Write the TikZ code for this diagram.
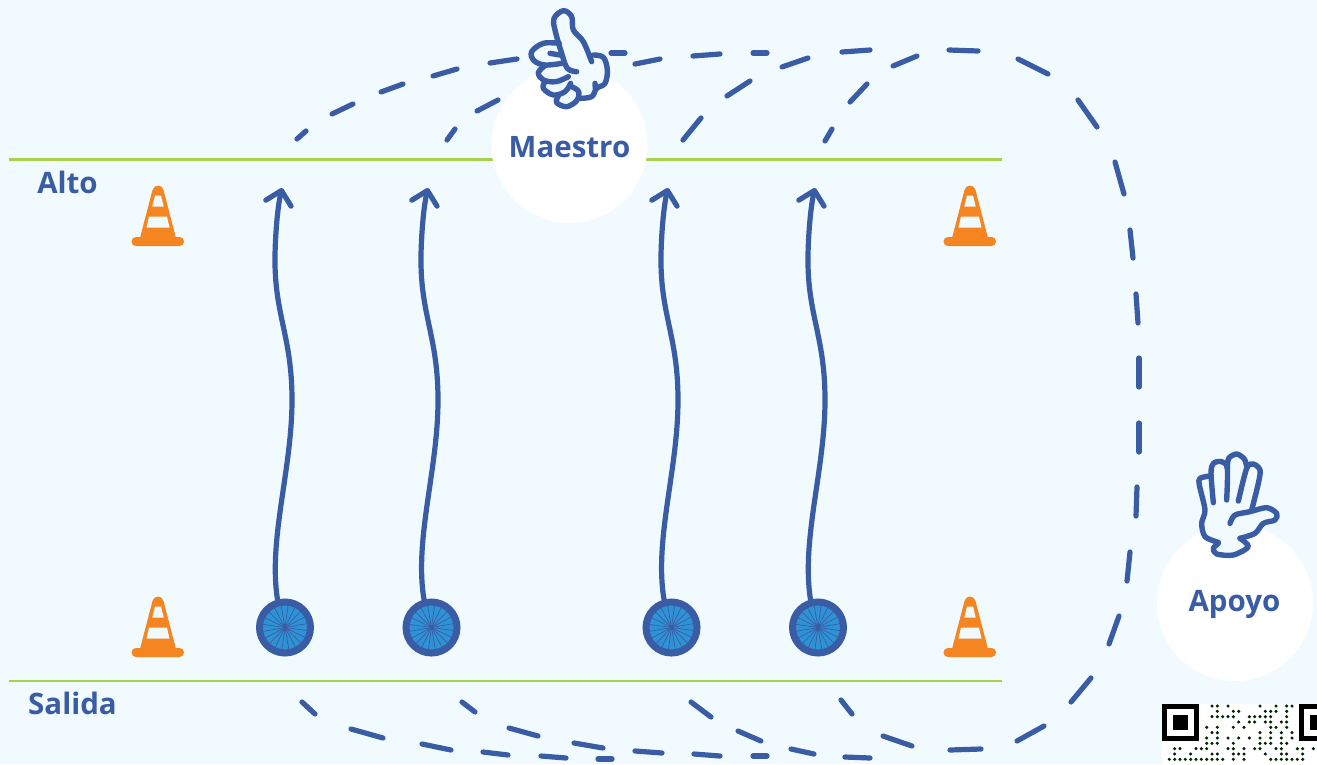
\documentclass[tikz,border=0pt]{standalone}
\usepackage{fontspec}
\setmainfont{Open Sans}
\usetikzlibrary{arrows.meta}
\definecolor{bgc}{HTML}{F0FAFF}
\definecolor{bluec}{HTML}{3A5CA5}
\definecolor{wheelc}{HTML}{2E93D5}
\definecolor{orangec}{HTML}{F58520}
\definecolor{greenc}{HTML}{A6D24C}
\tikzset{
  dashseg/.style={draw=bluec,line width=5.2pt,line cap=round},
  flow/.style={draw=bluec,line width=5.2pt,line cap=round,line join=round,-{Straight Barb[length=13pt,width=26pt,round]}},
  handline/.style={draw=bluec,line width=5.4pt,line cap=round,line join=round},
  halo/.style={circle,fill=white,minimum size=156pt,inner sep=0pt},
  halotext/.style={text=bluec,inner sep=0pt,font=\fontsize{29.5}{33}\selectfont\bfseries},
  lbl/.style={text=bluec,inner sep=0pt,font=\fontsize{29.5}{34}\selectfont\bfseries},
  wheel/.style={circle,draw=bluec,fill=wheelc,line width=7pt,minimum size=51pt,inner sep=0pt},
  track/.style={draw=greenc,line width=2.6pt},
  cone/.pic={
    \fill[orangec,rounded corners=4.4pt] (-26.5,51) rectangle (26,60);
    \fill[orangec] (-18,52) -- (-5.5,4) .. controls (-4,-2) and (4,-2) .. (5.5,4) -- (18,52) -- cycle;
    \fill[bgc] (-3,9.5) -- (3,9.5) -- (5.7,20.5) -- (-5.7,20.5) -- cycle;
    \fill[bgc] (-9,30.5) -- (9,30.5) -- (11.5,41.5) -- (-11.5,41.5) -- cycle;
  }
}
\begin{document}
\begin{tikzpicture}[x=1pt,y=-1pt]
\fill[bgc] (0,0) rectangle (1317,764);
\useasboundingbox (0,0) rectangle (1317,764);

% tracks
\coordinate (a1) at (9,159.5); \coordinate (a2) at (1002,159.5);
\coordinate (s1) at (9,681); \coordinate (s2) at (1002,681);
\draw[track] (a1) -- (a2);
\draw[track] (s1) -- (s2);

% dashed routes
\foreach \xa/\ya/\xb/\yb in {
 297/139/306/131, 332/114/353/104, 381/92/403/84, 433/76/457/69, 490/63/517/59,
 447/140/455/129, 477/111/498/100,
 611/53/625/53, 635/64/660/59, 693/56/720/54, 753/53/767/53, 782/67/808/58,
 842/52/870/50, 893/66/917/56, 949/50/978/51, 1018/59/1048/74, 1078/100/1097/127,
 683/140/701/118, 727/96/750/81, 825/141/832/129, 850/102/867/84,
 1115/162/1124/194, 1130/230/1133/258, 1136/294/1138/323, 1139/358/1139/387,
 1139/423/1139/452, 1137/487/1136/516, 1130/552/1127/581, 1119/616/1109/644,
 1091/678/1071/702, 1017/741/1044/726, 950/750/981/749, 883/736/912/746,
 845/757/870/758, 791/749/814/754, 753/756/767/756, 738/731/761/741,
 694/754/720/756, 691/702/711/717, 841/700/852/714, 635/751/662/753,
 302/702/315/714, 351/729/383/738, 422/744/451/750, 483/752/508/755,
 541/756/566/758, 598/759/612/759, 462/702/475/712, 509/728/538/736, 574/743/603/748}
 { \draw[dashseg] (\xa,\ya) -- (\xb,\yb); }

% people
\node[halo] (maestro) at (569.5,145) {};
\node[halo] (apoyo) at (1235,603) {};
\node[halotext] (maestrot) at (569.5,147) {Maestro};
\node[halotext] (apoyot) at (1234.5,604.5) {Apoyo};

% labels
\node[lbl] (alto) at (67.5,182) {Alto};
\node[lbl] (salida) at (72.5,703) {Salida};

% cones
\pic at (158,597) {cone};
\pic at (970,597) {cone};
\pic at (158,186) {cone};
\pic at (970,186) {cone};

% wheels and arrows
\foreach \n/\d in {1/0,2/146,3/386,4/533}{
  \node[wheel] (w\n) at ({285+\d+(\n==2?0.5:0)+(\n==3?0.5:0)},627.5) {};
  \foreach \a in {0,18,...,342}{
    \draw[bluec,line width=0.7pt] (w\n.center) -- ++(\a+8:23);
  }
  \fill[bluec] (w\n.center) circle (2);
  \coordinate (t\n) at ({282+\d},188);
  \draw[flow] (w\n.105) .. controls ({268+\d},540) and ({292+\d},470) .. ({292+\d},400)
     .. controls ({292+\d},335) and ({274+\d},315) .. ({275+\d},255)
     .. controls ({275.5+\d},230) and ({278+\d},205) .. (t\n);
}

% thumb-up hand
\begin{scope}[shift={(480,0)},scale=0.33333]
  \fill[bgc] plot[smooth cycle,tension=0.6] coordinates {(225,50) (250,32) (275,50) (280,90) (310,125) (340,165) (370,170) (382,210) (375,250) (350,265) (335,290) (295,295) (260,320) (230,310) (195,265) (180,230) (160,180) (155,150) (190,130) (230,125) (225,90)};
  \draw[handline] plot[smooth,tension=0.6] coordinates {(290,215) (262,205) (245,160) (225,90) (222,55) (250,32) (275,50) (280,90) (310,125) (335,185)};
  \draw[handline] plot[smooth,tension=0.6] coordinates {(340,165) (370,172) (382,210) (375,250) (350,265) (335,290) (300,295)};
  \draw[handline] (345,250) -- (346,266);
  \draw[handline] plot[smooth,tension=0.6] coordinates {(238,130) (190,130) (155,155) (162,182) (195,195) (245,190)};
  \draw[handline] (210,160) -- (240,165);
  \draw[handline] plot[smooth,tension=0.6] coordinates {(195,197) (175,218) (190,240) (228,245) (265,230)};
  \draw[handline] plot[smooth,tension=0.6] coordinates {(195,245) (190,265) (220,285) (255,275) (272,250)};
  \draw[handline] plot[smooth,tension=0.6] coordinates {(235,288) (230,308) (260,320) (290,302) (296,275) (275,260)};
\end{scope}

% open hand
\begin{scope}[shift={(1150,440)},scale=0.33333]
  \fill[bgc] plot[smooth cycle,tension=0.5] coordinates {(148,135) (150,115) (183,100) (190,70) (215,65) (235,55) (260,42) (285,60) (310,72) (330,90) (325,130) (305,210) (350,203) (380,220) (375,240) (340,250) (315,280) (270,295) (295,320) (250,345) (200,342) (190,325) (205,310) (165,290) (155,250) (165,210)};
  \draw[handline] plot[smooth,tension=0.5] coordinates {(205,307) (165,290) (155,250) (165,210) (148,135) (150,115) (178,108)};
  \draw[handline] plot[smooth,tension=0.5] coordinates {(190,188) (183,100) (190,70) (215,65) (232,85) (230,180)};
  \draw[handline] plot[smooth,tension=0.5] coordinates {(232,85) (236,55) (260,42) (283,57) (290,80)};
  \draw[handline] plot[smooth,tension=0.5] coordinates {(265,183) (290,85) (310,72) (330,90) (325,130) (305,210)};
  \draw[handline] plot[smooth,tension=0.5] coordinates {(240,250) (255,225) (300,215) (350,203) (380,220) (375,240) (340,250) (315,280) (270,295)};
  \draw[handline] plot[smooth,tension=0.5] coordinates {(205,310) (190,325) (200,342) (250,345) (295,320) (270,295)};
\end{scope}

% QR code
\begin{scope}
  \clip (0,0) rectangle (1317,764);
  \fill[white] (1162,704) rectangle (1317,764);
  \foreach \fx in {1162,1299}{
    \fill[black] (\fx,704) rectangle ++(37,37);
    \fill[white] (\fx+5.3,709.3) rectangle ++(26.4,26.4);
    \fill[black] (\fx+10.6,714.6) rectangle ++(15.8,15.8);
  }
  \begin{scope}[shift={(1150,690)},scale=0.33333]
  \foreach \yy/\xs in {
    48/{186,202,234,330,378,410,426},
    64/{202,250,266,346,362,378,410},
    80/{186,202,218,234,250,298,314,330,346,362,410},
    96/{266,298,314,346,362,394,410},
    112/{170,202,250,282,362,378,410},
    128/{186,202,330,362,394,426},
    144/{170,202,234,266,298,330,362,394,426},
    160/{170,186,202,250,330,346,362,394,410},
    176/{74,90,138,154,170,234,250,282,314,330,378,394,442,458,490},
    192/{74,122,186,202,250,266,282,346,394,410,458},
    208/{58,74,90,106,122,138,154,170,186,202,218,250,282,362,378,394,410,426,442,458}}
  {
    \foreach \xx in \xs { \fill[black!85!green] (\xx,\yy) circle (5.2); }
  }
  \end{scope}
\end{scope}
\end{tikzpicture}
\end{document}
